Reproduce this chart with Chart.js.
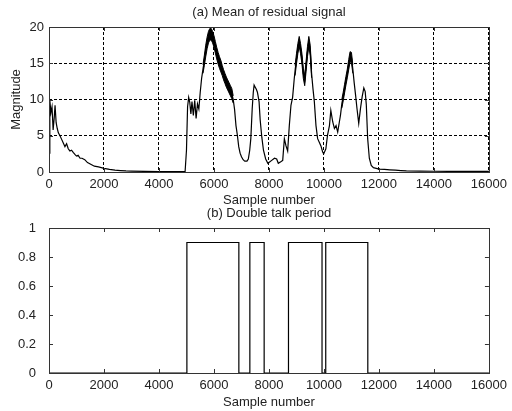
<!DOCTYPE html>
<html>
<head>
<meta charset="utf-8">
<script src="https://cdn.jsdelivr.net/npm/chart.js@4/dist/chart.umd.min.js"></script>
<style>
    body { margin: 0; background: #fff; }
    #wrap { position: relative; width: 512px; height: 411px; }
    canvas { position: absolute; left: 0; }
    #residual { top: 0; }
    #doubleTalk { top: 200px; }
</style>
</head>
<body>
<div id="wrap">
    <canvas id="residual" width="512" height="208"></canvas>
    <canvas id="doubleTalk" width="512" height="211"></canvas>
</div>
<script>
// ========== DATOS ==========
const sampleNumbers = [
    0, 30, 70, 110, 150, 190, 220, 260, 300, 340, 400, 460, 520, 580, 640, 700, 760, 820, 880, 950,
    1000, 1060, 1130, 1200, 1300, 1400, 1500, 1650, 1800, 2000, 2200, 2400, 2600, 2800, 3000, 3500,
    4000, 4500, 4950, 5000, 5040, 5080, 5120, 5160, 5200, 5250, 5300, 5350, 5400, 5450, 5500, 5550,
    5600, 5650, 5700, 5750, 5800, 5850, 5900, 5950, 6000, 6050, 6100, 6150, 6200, 6250, 6300, 6350,
    6400, 6450, 6500, 6550, 6600, 6650, 6700, 6750, 6800, 6850, 6900, 6950, 7000, 7060, 7120, 7200,
    7250, 7300, 7340, 7390, 7430, 7460, 7500, 7540, 7580, 7640, 7680, 7740, 7800, 7880, 7960, 8000,
    8100, 8200, 8280, 8340, 8430, 8500, 8560, 8620, 8680, 8740, 8800, 8860, 8920,
    8950, 9000, 9050, 9100, 9150, 9200, 9250, 9300, 9350, 9400, 9450, 9500, 9550,
    9600, 9650, 9710, 9770, 9830, 9890, 9950, 9990, 10070, 10130, 10200, 10250, 10320, 10380, 10440,
    10500, 10560, 10600, 10650, 10700, 10750, 10800, 10850, 10900, 10950, 11000, 11050,
    11100, 11150, 11200, 11265, 11330, 11390, 11450, 11500, 11540, 11590, 11650, 11720, 11800, 11900,
    12000, 12200, 12400, 12600, 12800, 13000, 13500, 14000, 14500, 15000, 15500, 16000,
];
const residualMean = [
    2.6, 9.9, 8.2, 9.0, 5.8, 7.5, 9.2, 6.8, 6.0, 5.4, 5.0, 4.5, 4.0, 3.5, 3.9, 3.2, 2.9, 3.0, 2.7, 2.4,
    2.2, 2.3, 1.9, 1.9, 1.7, 1.3, 1.1, 0.8, 0.7, 0.5, 0.35, 0.25, 0.2, 0.15, 0.12, 0.08,
    0.06, 0.05, 0.05, 3.0, 9.0, 10.3, 9.6, 8.0, 9.7, 7.8, 9.9, 7.4, 9.4, 8.7, 11.0, 12.9,
    14.2, 15.4, 16.7, 17.8, 18.6, 19.0, 19.0, 18.6, 18.0, 17.2, 16.4, 15.7, 15.1, 14.6, 14.0, 13.4,
    12.9, 12.4, 12.0, 11.6, 11.2, 10.8, 10.0, 8.6, 6.4, 5.1, 3.5, 2.6, 2.1, 1.7, 1.5, 1.5,
    1.8, 3.0, 4.6, 8.7, 11.0, 12.0, 11.7, 11.4, 11.0, 9.7, 7.2, 4.8, 3.0, 1.8, 1.2, 1.3,
    1.6, 1.9, 1.8, 1.2, 1.4, 1.6, 4.6, 3.6, 2.9, 6.4, 9.2, 10.3, 12.9,
    14.0, 15.6, 17.0, 18.0, 17.0, 15.6, 13.6, 12.6, 14.6, 16.6, 18.0, 16.8, 13.6,
    11.5, 9.7, 6.4, 4.6, 4.1, 3.6, 2.8, 2.5, 3.2, 5.1, 6.4, 8.5, 6.9, 6.0, 6.4,
    5.5, 6.9, 7.8, 9.4, 10.4, 11.5, 12.6, 13.6, 14.8, 15.9, 15.8, 14.2,
    12.3, 10.6, 8.8, 6.7, 8.8, 10.4, 11.6, 11.1, 9.3, 4.6, 1.9, 0.9, 0.6, 0.5,
    0.4, 0.35, 0.3, 0.25, 0.2, 0.15, 0.12, 0.1, 0.1, 0.08, 0.08, 0.08,
];

// rango del ruido (mín / máx) en los tramos donde la señal es muy ruidosa
const noiseSamples = [
    5600, 5650, 5700, 5750, 5800, 5850, 5900, 5950, 6000, 6050, 6100, 6150, 6200, 6250, 6300, 6350,
    6400, 6450, 6500, 6550, 6600, 6650, 6700, 6701,
    8950, 9000, 9050, 9100, 9150, 9200, 9250, 9300, 9350, 9400, 9450, 9500, 9550, 9551,
    10650, 10700, 10750, 10800, 10850, 10900, 10950, 11000, 11050,
];
const noiseLow = [
    13.6, 14.7, 15.9, 17.0, 17.8, 18.2, 18.2, 17.8, 17.2, 16.4, 15.6, 14.9, 14.3, 13.8, 13.3, 12.7,
    12.2, 11.7, 11.3, 10.9, 10.5, 10.1, 9.5, null,
    13.3, 14.9, 16.3, 17.3, 16.3, 14.9, 12.9, 11.9, 13.9, 15.9, 17.3, 16.1, 13.0, null,
    8.8, 9.8, 10.9, 12.0, 13.0, 14.1, 15.2, 15.1, 13.6,
];
const noiseHigh = [
    14.8, 16.1, 17.5, 18.6, 19.4, 19.8, 19.8, 19.4, 18.8, 18.0, 17.2, 16.5, 15.9, 15.4, 14.7, 14.1,
    13.6, 13.1, 12.7, 12.3, 11.9, 11.5, 10.5, null,
    14.7, 16.3, 17.7, 18.7, 17.7, 16.3, 14.3, 13.3, 15.3, 17.3, 18.7, 17.5, 14.2, null,
    10.0, 11.0, 12.1, 13.2, 14.2, 15.5, 16.6, 16.5, 14.8,
];

// flancos del detector de doble habla (cada valor se mantiene hasta el siguiente flanco)
const talkEdges = [0, 5015, 6905, 7305, 7825, 8710, 9930, 10065, 11595, 16000];
const talkLevels = [0, 0.9, 0, 0.9, 0, 0.9, 0, 0.9, 0, 0];

const xTicks = { min: 0, max: 16000, step: 2000 };
const magnitudeTicks = { min: 0, max: 20, step: 5 };
const talkTicks = { min: 0, max: 1, step: 0.2 };

// ========== ESTILO ==========
const FONT = { family: "'Liberation Sans', Arial, sans-serif", size: 13 };
const TEXT = "#222";

// marco + marcas hacia dentro, como en MATLAB
const framePlugin = {
    id: "frame",
    afterDatasetsDraw(chart) {
        const { ctx, chartArea: a, scales } = chart;
        ctx.save();
        ctx.strokeStyle = "#333";
        ctx.lineWidth = 1;
        ctx.beginPath();
        scales.x.ticks.forEach((t) => {
            const px = Math.round(scales.x.getPixelForValue(t.value)) + 0.5;
            ctx.moveTo(px, a.bottom); ctx.lineTo(px, a.bottom - 4);
            ctx.moveTo(px, a.top); ctx.lineTo(px, a.top + 4);
        });
        scales.y.ticks.forEach((t) => {
            const py = Math.round(scales.y.getPixelForValue(t.value)) + 0.5;
            ctx.moveTo(a.left, py); ctx.lineTo(a.left + 4, py);
            ctx.moveTo(a.right, py); ctx.lineTo(a.right - 4, py);
        });
        ctx.stroke();
        ctx.strokeRect(Math.round(a.left) + 0.5, Math.round(a.top) + 0.5,
            Math.round(a.right - a.left), Math.round(a.bottom - a.top));
        ctx.restore();
    },
};

const headingPlugin = {
    id: "heading",
    afterDraw(chart, args, opts) {
        const { ctx, chartArea: a } = chart;
        ctx.save();
        ctx.font = `${FONT.size}px ${FONT.family}`;
        ctx.fillStyle = TEXT;
        ctx.textAlign = "center";
        ctx.textBaseline = "middle";
        ctx.fillText(opts.text, (a.left + a.right) / 2, opts.y);
        ctx.restore();
    },
};

function xScale(height, titlePad, gridOn) {
    return {
        type: "linear",
        min: xTicks.min,
        max: xTicks.max,
        afterFit: (s) => { s.height = height; },
        ticks: {
            stepSize: xTicks.step,
            color: TEXT,
            font: FONT,
            padding: 5,
            maxRotation: 0,
            callback: (v) => String(v),
        },
        grid: { display: gridOn, color: "#000", drawTicks: false },
        border: { display: false, dash: [3, 2] },
        title: {
            display: true,
            text: "Sample number",
            color: TEXT,
            font: FONT,
            padding: { top: 0, bottom: titlePad },
        },
    };
}

const toPoints = (xs, ys) => xs.map((x, i) => ({ x, y: ys[i] }));

// ========== GRÁFICO (a) ==========
new Chart(document.getElementById("residual"), {
    type: "line",
    data: {
        datasets: [
            {
                data: toPoints(noiseSamples, noiseLow),
                borderColor: "#000",
                borderWidth: 1,
                pointRadius: 0,
                spanGaps: false,
            },
            {
                data: toPoints(noiseSamples, noiseHigh),
                borderColor: "#000",
                backgroundColor: "#000",
                borderWidth: 1,
                pointRadius: 0,
                spanGaps: false,
                fill: "-1",
            },
            {
                data: toPoints(sampleNumbers, residualMean),
                borderColor: "#000",
                borderWidth: 1.2,
                pointRadius: 0,
                tension: 0,
            },
        ],
    },
    options: {
        responsive: false,
        animation: false,
        layout: { padding: { top: 27, right: 23, left: 0, bottom: 0 } },
        plugins: {
            legend: { display: false },
            tooltip: { enabled: false },
            filler: { propagate: false },
            heading: { text: "(a) Mean of residual signal", y: 12 },
        },
        scales: {
            x: xScale(36, 0, true),
            y: {
                min: magnitudeTicks.min,
                max: magnitudeTicks.max,
                afterFit: (s) => { s.width = 49; },
                ticks: { stepSize: magnitudeTicks.step, color: TEXT, font: FONT, padding: 5 },
                grid: { color: "#000", drawTicks: false },
                border: { display: false, dash: [3, 2] },
                title: {
                    display: true,
                    text: "Magnitude",
                    color: TEXT,
                    font: FONT,
                    padding: { top: 9, bottom: 0 },
                },
            },
        },
    },
    plugins: [framePlugin, headingPlugin],
});

// ========== GRÁFICO (b) ==========
new Chart(document.getElementById("doubleTalk"), {
    type: "line",
    data: {
        datasets: [{
            data: toPoints(talkEdges, talkLevels),
            borderColor: "#000",
            borderWidth: 1.2,
            pointRadius: 0,
            stepped: true,
        }],
    },
    options: {
        responsive: false,
        animation: false,
        layout: { padding: { top: 28, right: 23, left: 0, bottom: 0 } },
        plugins: {
            legend: { display: false },
            tooltip: { enabled: false },
            heading: { text: "(b) Double talk period", y: 13 },
        },
        scales: {
            x: xScale(38, 1, false),
            y: {
                min: talkTicks.min,
                max: talkTicks.max,
                afterFit: (s) => { s.width = 49; },
                ticks: {
                    stepSize: talkTicks.step,
                    color: TEXT,
                    font: FONT,
                    padding: 5,
                    callback: (v) => String(Number(v.toFixed(1))),
                },
                grid: { display: false },
                border: { display: false },
            },
        },
    },
    plugins: [framePlugin, headingPlugin],
});
</script>
</body>
</html>
